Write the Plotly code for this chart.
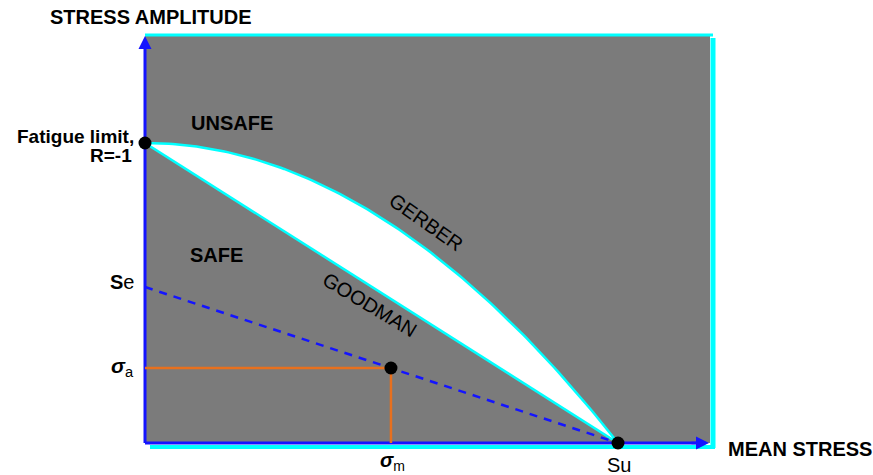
import numpy as np
import plotly.graph_objects as go

# Fatigue diagram parameters (normalised units)
fatigue_limit = 1.0      # stress amplitude at R = -1
ultimate = 1.0           # Su, ultimate tensile strength
endurance = 0.52         # Se, corrected endurance limit
sigma_m = 0.52           # working mean stress
sigma_a = 0.25           # working stress amplitude

x_max = 1.1945
y_max = 1.3567

# Gerber parabola and Goodman line between the two anchor points
xs = np.linspace(0, ultimate, 120)
gerber = fatigue_limit * (1 - (xs / ultimate) ** 2)
goodman = fatigue_limit * (1 - xs / ultimate)

W, H = 873, 475
L, R, T, B = 145, 163, 36, 32


def pxp(xpix):
    return (xpix - L) / (W - L - R)


def pyp(ypix):
    return (H - B - ypix) / (H - T - B)


GRAY = "#7b7b7b"
CYAN = "#00ffff"
BLUE = "#1414ff"
ORANGE = "#e8701e"
FONT = "Liberation Sans, Arial, sans-serif"

fig = go.Figure()

# region between the two criteria
fig.add_trace(go.Scatter(
    x=np.concatenate([xs, xs[::-1]]),
    y=np.concatenate([gerber, goodman[::-1]]),
    fill="toself", fillcolor="white", mode="none",
    hoverinfo="skip", showlegend=False,
))
fig.add_trace(go.Scatter(x=xs, y=gerber, mode="lines",
                         line=dict(color=CYAN, width=2.5),
                         showlegend=False, hoverinfo="skip"))
fig.add_trace(go.Scatter(x=xs, y=goodman, mode="lines",
                         line=dict(color=CYAN, width=2.5),
                         showlegend=False, hoverinfo="skip"))

# modified Goodman line through Se
fig.add_trace(go.Scatter(x=[0, ultimate], y=[endurance, 0], mode="lines",
                         line=dict(color=BLUE, width=2.5, dash="8px,7px"),
                         showlegend=False, hoverinfo="skip"))

# operating point guides
fig.add_trace(go.Scatter(x=[0, sigma_m, sigma_m], y=[sigma_a, sigma_a, 0],
                         mode="lines", line=dict(color=ORANGE, width=2.5),
                         showlegend=False, hoverinfo="skip"))

# key points
fig.add_trace(go.Scatter(x=[0, sigma_m, ultimate], y=[fatigue_limit, sigma_a, 0],
                         mode="markers", marker=dict(color="black", size=13),
                         cliponaxis=False, showlegend=False, hoverinfo="skip"))

shapes = [
    # cyan frame edges
    dict(type="line", xref="paper", yref="paper", x0=pxp(145), x1=pxp(713),
         y0=pyp(35), y1=pyp(35), line=dict(color=CYAN, width=3)),
    dict(type="line", xref="paper", yref="paper", x0=pxp(713), x1=pxp(713),
         y0=pyp(38), y1=pyp(448), line=dict(color=CYAN, width=5)),
    dict(type="line", xref="paper", yref="paper", x0=pxp(150), x1=pxp(715),
         y0=pyp(447), y1=pyp(447), layer="below", line=dict(color=CYAN, width=4)),
    # blue axis lines, kept beneath the plotted points
    dict(type="line", xref="paper", yref="paper", x0=0, x1=0, layer="below",
         y0=0, y1=pyp(46), line=dict(color=BLUE, width=3)),
    dict(type="line", xref="paper", yref="paper", x0=0, x1=pxp(697), layer="below",
         y0=0, y1=0, line=dict(color=BLUE, width=3)),
]

annotations = [
    # arrow heads
    dict(xref="paper", yref="paper", x=0, y=pyp(36), ax=0, ay=14,
         axref="pixel", ayref="pixel", text="", showarrow=True,
         arrowhead=2, arrowsize=1, arrowwidth=2.6, arrowcolor=BLUE, standoff=0),
    dict(xref="paper", yref="paper", x=pxp(709), y=0, ax=-19, ay=0,
         axref="pixel", ayref="pixel", text="", showarrow=True,
         arrowhead=2, arrowsize=1, arrowwidth=2.6, arrowcolor=BLUE, standoff=0),
    # axis titles
    dict(xref="paper", yref="paper", x=pxp(151), y=pyp(17), text="<b>STRESS AMPLITUDE</b>",
         showarrow=False, xanchor="center", yanchor="middle",
         font=dict(size=20, color="black", family=FONT)),
    dict(xref="paper", yref="paper", x=pxp(726), y=pyp(449), text="<b>MEAN STRESS</b>",
         showarrow=False, xanchor="left", yanchor="middle",
         font=dict(size=20, color="black", family=FONT)),
    # region labels
    dict(x=0.184, y=1.067, text="<b>UNSAFE</b>", showarrow=False,
         font=dict(size=20, color="black", family=FONT)),
    dict(x=0.152, y=0.627, text="<b>SAFE</b>", showarrow=False,
         font=dict(size=20, color="black", family=FONT)),
    dict(x=0.594, y=0.737, text="GERBER", showarrow=False, textangle=35,
         font=dict(size=20, color="black", family=FONT)),
    dict(x=0.476, y=0.46, text="GOODMAN", showarrow=False, textangle=31,
         font=dict(size=20, color="black", family=FONT)),
    # point labels
    dict(xref="paper", yref="paper", x=pxp(136), y=pyp(136), text="<b>Fatigue limit,</b>",
         showarrow=False, xanchor="right", yanchor="middle",
         font=dict(size=19, color="black", family=FONT)),
    dict(xref="paper", yref="paper", x=pxp(134), y=pyp(155), text="<b>R=-1</b>",
         showarrow=False, xanchor="right", yanchor="middle",
         font=dict(size=19, color="black", family=FONT)),
    dict(x=0, y=endurance, text="<b>S</b>e", showarrow=False,
         xanchor="right", yanchor="middle", xshift=-9, yshift=5,
         font=dict(size=20, color="black", family=FONT)),
    dict(x=0, y=sigma_a, text="<b><i>σ</i></b><sub>a</sub>", showarrow=False,
         xanchor="right", yanchor="middle", xshift=-9, yshift=1,
         font=dict(size=21, color="black", family=FONT)),
    dict(x=sigma_m, y=0, text="<b><i>σ</i></b><sub>m</sub>", showarrow=False,
         xanchor="center", yanchor="top", yshift=-4, xshift=2,
         font=dict(size=20, color="black", family=FONT)),
    dict(x=ultimate, y=0, text="Su", showarrow=False,
         xanchor="center", yanchor="top", yshift=-9, xshift=1,
         font=dict(size=20, color="black", family=FONT)),
]

fig.update_layout(
    width=W, height=H, autosize=False,
    margin=dict(l=L, r=R, t=T, b=B, pad=0),
    paper_bgcolor="white", plot_bgcolor=GRAY,
    xaxis=dict(range=[0, x_max], showgrid=False, zeroline=False,
               showticklabels=False, ticks="", showline=False, fixedrange=True),
    yaxis=dict(range=[0, y_max], showgrid=False, zeroline=False,
               showticklabels=False, ticks="", showline=False, fixedrange=True),
    shapes=shapes, annotations=annotations, showlegend=False,
)

fig.write_html("out.html")
